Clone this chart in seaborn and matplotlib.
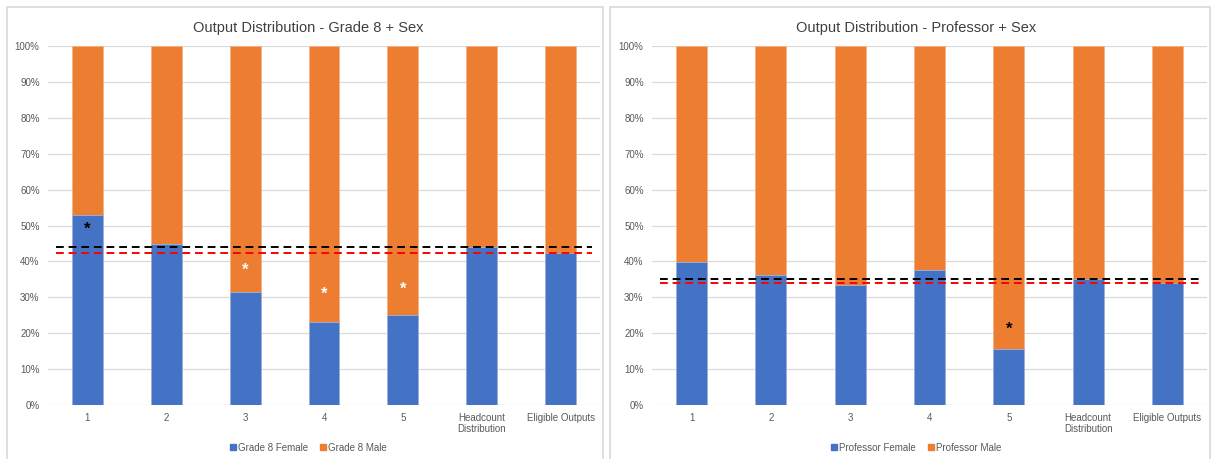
import matplotlib
matplotlib.use("Agg")
import matplotlib.pyplot as plt
import seaborn as sns
import pandas as pd
from matplotlib.patches import Rectangle
from matplotlib.lines import Line2D

categories = ["1", "2", "3", "4", "5", "Headcount\nDistribution", "Eligible Outputs"]

grade8_female = [52.9, 44.8, 31.6, 23.0, 25.1, 43.9, 42.4]
grade8_male = [100 - v for v in grade8_female]
grade8_headcount_line = 43.9
grade8_eligible_line = 42.4
grade8_stars_idx = [0, 2, 3, 4]
grade8_stars_y = [48.9, 37.4, 30.9, 32.3]
grade8_stars_col = ["black", "white", "white", "white"]

prof_female = [39.9, 36.2, 33.3, 37.5, 15.5, 35.0, 34.1]
prof_male = [100 - v for v in prof_female]
prof_headcount_line = 35.0
prof_eligible_line = 34.1
prof_stars_idx = [4]
prof_stars_y = [21.1]
prof_stars_col = ["black"]

BLUE = "#4472C4"
ORANGE = "#ED7D31"
TXT = "#595959"

sns.set_theme(style="white")
plt.rcParams["font.family"] = ["Liberation Sans", "DejaVu Sans"]

fig = plt.figure(figsize=(12.13, 4.59), dpi=100)

# panel borders
for (x0, w) in [(7, 596), (610, 600)]:
    fig.patches.append(Rectangle((x0 / 1213, -0.01), w / 1213, (452) / 459 + 0.01,
                                 transform=fig.transFigure, fill=False,
                                 edgecolor="#D9D9D9", linewidth=1.2))


def draw(ax, female, male, hline, eline, sidx, sy, scol, title, names, tcx):
    df = pd.DataFrame({"cat": categories,
                       "female": female,
                       "total": [f + m for f, m in zip(female, male)]})
    sns.barplot(data=df, x="cat", y="total", color=ORANGE, width=0.39,
                saturation=1, ax=ax, edgecolor="#F4B183", linewidth=0.6)
    sns.barplot(data=df, x="cat", y="female", color=BLUE, width=0.39,
                saturation=1, ax=ax, edgecolor="#9DB4E0", linewidth=0.6)
    ax.set_xlim(-0.5, 6.5)
    ax.set_ylim(0, 100)
    ax.set_yticks(range(0, 101, 10))
    ax.set_yticklabels([f"{v}%" for v in range(0, 101, 10)], fontsize=7, color=TXT)
    ax.set_xticks(range(len(categories)))
    ax.set_xticklabels(categories, fontsize=7, color=TXT, linespacing=1.1)
    ax.tick_params(axis="both", length=0, pad=6)
    ax.set_xlabel("")
    ax.set_ylabel("")
    ax.yaxis.grid(True, color="#D9D9D9", linewidth=0.9)
    ax.set_axisbelow(True)
    for s in ax.spines.values():
        s.set_visible(False)
    ax.hlines(hline, -0.4, 6.4, colors="black", linestyles=(0, (4, 2.5)), linewidth=1.4, zorder=5)
    ax.hlines(eline, -0.4, 6.4, colors="#FF0000", linestyles=(0, (4, 2.5)), linewidth=1.4, zorder=5)
    for i, y, c in zip(sidx, sy, scol):
        ax.text(i, y, "*", ha="center", va="center", fontsize=12, fontweight="bold",
                color=c, zorder=6)
    fig.text(tcx, 0.94, title, ha="center", va="center", fontsize=10.5, color="#404040")
    handles = [Line2D([0], [0], marker="s", color="none", markerfacecolor=BLUE,
                      markeredgecolor=BLUE, markersize=5),
               Line2D([0], [0], marker="s", color="none", markerfacecolor=ORANGE,
                      markeredgecolor=ORANGE, markersize=5)]
    fig.legend(handles, names, loc="center", bbox_to_anchor=(tcx, 0.025),
               ncol=2, frameon=False, fontsize=7, handletextpad=0.1,
               columnspacing=1.2, labelcolor=TXT, handlelength=0.8)


ax1 = fig.add_axes([48 / 1213, 54 / 459, 552 / 1213, 359 / 459])
ax2 = fig.add_axes([652 / 1213, 54 / 459, 555 / 1213, 359 / 459])

draw(ax1, grade8_female, grade8_male, grade8_headcount_line, grade8_eligible_line,
     grade8_stars_idx, grade8_stars_y, grade8_stars_col,
     "Output Distribution - Grade 8 + Sex", ["Grade 8 Female", "Grade 8 Male"], 308 / 1213)
draw(ax2, prof_female, prof_male, prof_headcount_line, prof_eligible_line,
     prof_stars_idx, prof_stars_y, prof_stars_col,
     "Output Distribution - Professor + Sex", ["Professor Female", "Professor Male"], 916 / 1213)

fig.savefig("out.png", dpi=100)
